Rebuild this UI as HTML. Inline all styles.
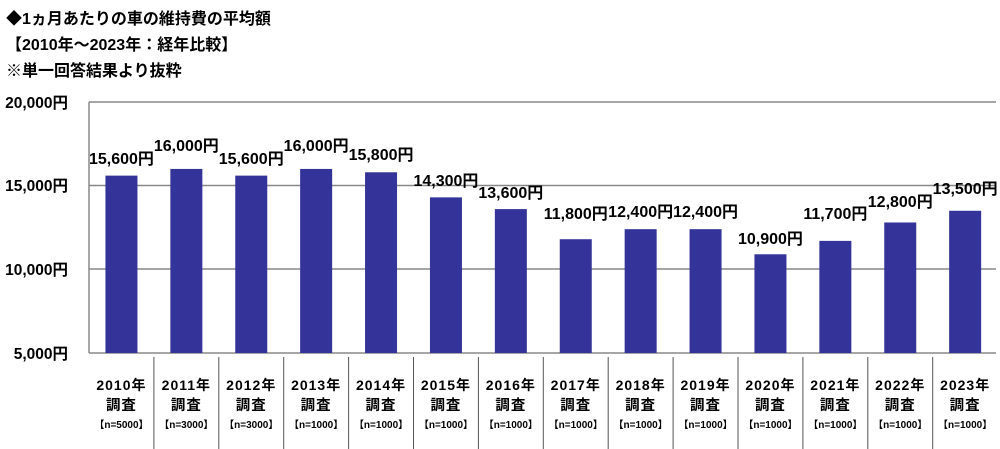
<!DOCTYPE html>
<html><head><meta charset="utf-8"><style>
body{margin:0;background:#fff;width:1000px;height:449px;overflow:hidden;font-family:"Liberation Sans","Noto Sans CJK JP",sans-serif;font-weight:bold;color:#000}
</style></head><body>
<svg width="1000" height="449" xmlns="http://www.w3.org/2000/svg" style="position:absolute;left:0;top:0" font-family="Liberation Sans, Noto Sans CJK JP, sans-serif" font-weight="bold">
<text x="6" y="24" font-size="16">◆1ヵ月あたりの車の維持費の平均額</text>
<text x="6" y="50" font-size="16">【2010年～2023年：経年比較】</text>
<text x="6" y="76" font-size="16">※単一回答結果より抜粋</text>
<g stroke="#888" stroke-width="1.5">
<line x1="89" y1="102" x2="996" y2="102"/>
<line x1="89" y1="185.5" x2="996" y2="185.5"/>
<line x1="89" y1="269" x2="996" y2="269"/>
<line x1="89" y1="353" x2="996" y2="353"/>
<line x1="89" y1="102" x2="89" y2="353"/>
</g>
<g font-size="15.5" text-anchor="end">
<text x="68" y="108">20,000円</text>
<text x="68" y="191">15,000円</text>
<text x="68" y="275">10,000円</text>
<text x="68" y="359">5,000円</text>
</g>
<g id="bars"></g>
</svg>
<script>
var v=[15600,16000,15600,16000,15800,14300,13600,11800,12400,12400,10900,11700,12800,13500];
var ly=[164,151,164,151,160,186,198,219,217,217,244,219,207,194];
var n=[5000,3000,3000,1000,1000,1000,1000,1000,1000,1000,1000,1000,1000,1000];
var s='';var w=64.9;
for(var i=0;i<14;i++){
 var c=89+(i+.5)*w;var y=353-(v[i]-5000)*251/15000;
 s+='<rect x="'+(c-16)+'" y="'+y+'" width="32" height="'+(353-y)+'" fill="#333399"/>';
 var lbl=(v[i]+'').replace(/(\d\d)(\d{3})/,'$1,$2');
 s+='<text x="'+c+'" y="'+ly[i]+'" font-size="16" text-anchor="middle">'+lbl+'円</text>';
 s+='<text x="'+c+'" y="390" font-size="14" text-anchor="middle" letter-spacing="1">'+(2010+i)+'年</text>';
 s+='<text x="'+c+'" y="410" font-size="14.5" text-anchor="middle" letter-spacing="1">調査</text>';
 s+='<text x="'+c+'" y="428" font-size="10" text-anchor="middle">【n='+n[i]+'】</text>';
 if(i>0)s+='<line x1="'+(89+i*w)+'" y1="357" x2="'+(89+i*w)+'" y2="449" stroke="#555" stroke-width="1"/>';
}
document.getElementById('bars').innerHTML=s;
</script>
</body></html>
